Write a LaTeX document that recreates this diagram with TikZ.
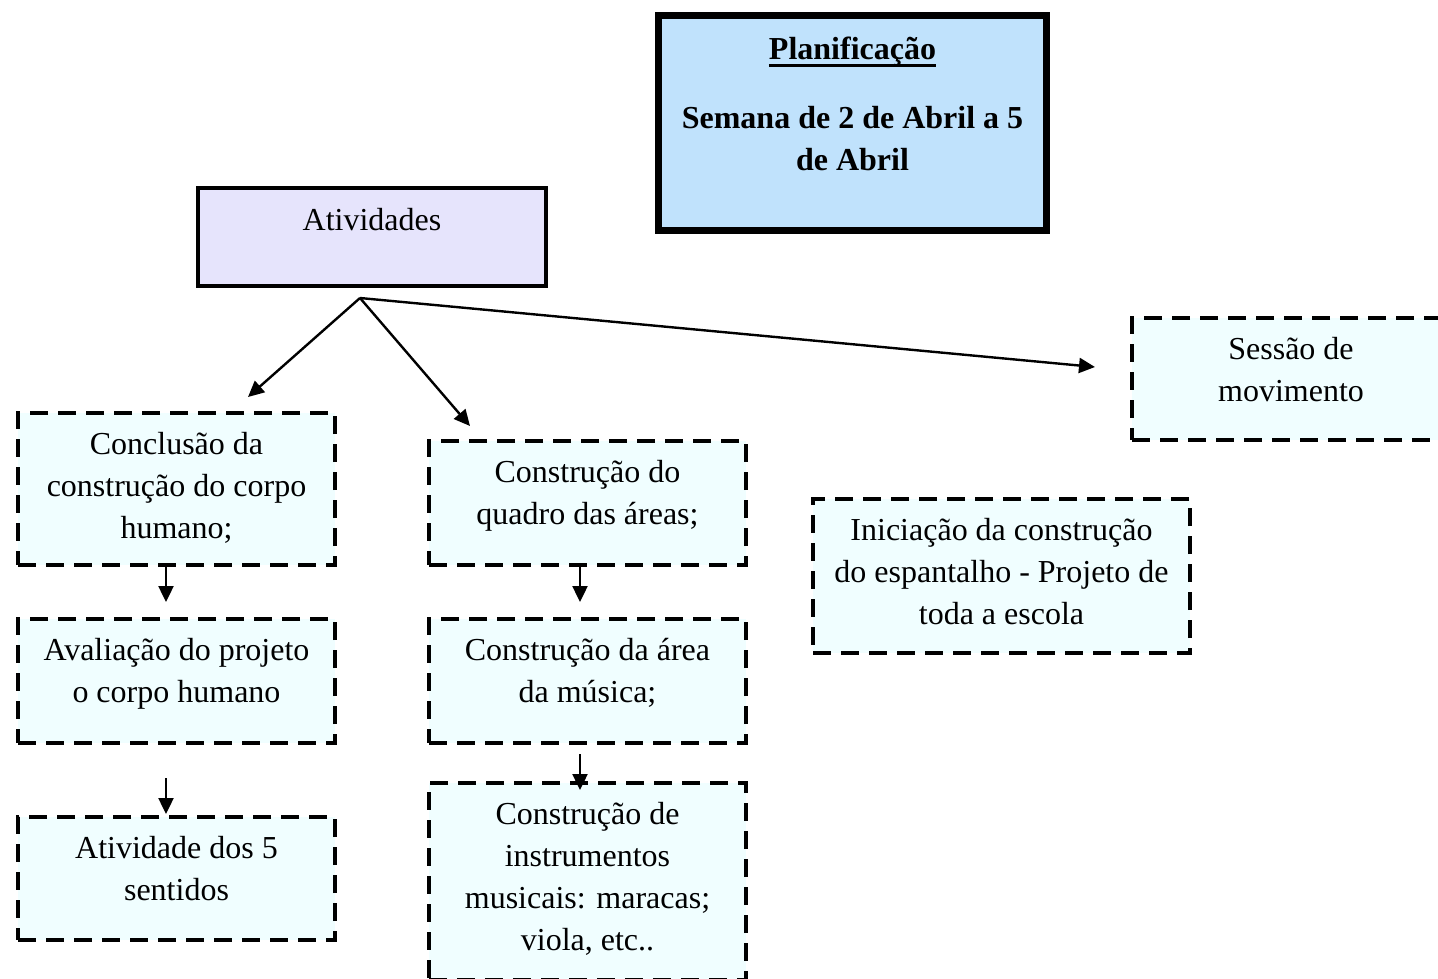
\documentclass[tikz,border=0pt]{standalone}
\usepackage{fontspec}
\setmainfont{Liberation Serif}
\usetikzlibrary{arrows.meta}

\definecolor{titlefill}{HTML}{C0E2FC}
\definecolor{rootfill}{HTML}{E6E4FC}
\definecolor{taskfill}{HTML}{F0FEFF}

% underline at a fixed depth, independent of descenders
\newcommand{\ulfixed}[1]{\setbox0\hbox{#1}\rlap{\rule[-7.5pt]{\wd0}{2.5pt}}\box0}

% fixed-size box with top-aligned, centred lines; #3 = first baseline offset
\newcommand{\boxtext}[4]{\parbox[c][#2][t]{#1}{\centering\fontsize{32}{42}\selectfont\rule{0pt}{#3}#4}}

\tikzset{
  titlebox/.style={draw, line width=7pt, fill=titlefill, inner sep=0pt},
  rootbox/.style={draw, line width=4pt, fill=rootfill, inner sep=0pt},
  taskbox/.style={draw, line width=4pt, dash pattern=on 18pt off 10pt, fill=taskfill, inner sep=0pt},
  arr/.style={line width=2.4pt, -{Triangle[length=16pt,width=15pt]}}
}

\begin{document}
\begin{tikzpicture}[x=1pt, y=-1pt]
\path[use as bounding box, clip] (0,0) rectangle (1438,978);

% heading
\node[titlebox] (title) at (852.5,123)
  {\parbox[c][215pt][t]{388pt}{\centering\fontsize{32}{42}\selectfont\bfseries
   \rule{0pt}{43.5pt}\ulfixed{Planificação}\\[27pt]
   Semana de 2 de Abril a 5\\ de Abril}};

% root
\node[rootbox] (atv) at (372,237) {\boxtext{348pt}{98pt}{42pt}{Atividades}};

% activities
\node[taskbox] (concl) at (176.5,489) {\boxtext{317pt}{152pt}{41pt}{Conclusão da\\ construção do corpo\\ humano;}};
\node[taskbox] (aval)  at (176.5,681) {\boxtext{317pt}{124pt}{41pt}{Avaliação do projeto\\ o corpo humano}};
\node[taskbox] (sent)  at (176.5,878.5) {\boxtext{317pt}{123pt}{41pt}{Atividade dos 5\\ sentidos}};

\node[taskbox] (quad)  at (587.5,503) {\boxtext{317pt}{124pt}{41pt}{Construção do\\ quadro das áreas;}};
\node[taskbox] (musa)  at (587.5,681) {\boxtext{317pt}{124pt}{41pt}{Construção da área\\ da música;}};
\node[taskbox] (instr) at (587.5,881.5) {\boxtext{317pt}{197pt}{41pt}{Construção de\\ instrumentos\\ musicais: maracas;\\ viola, etc..}};

\node[taskbox] (esp)   at (1001.5,576) {\boxtext{377pt}{154pt}{41pt}{Iniciação da construção\\ do espantalho - Projeto de\\ toda a escola}};

\node[taskbox] (mov)   at (1291,379) {\boxtext{318pt}{122pt}{41pt}{Sessão de\\ movimento}};

% connectors
\coordinate (hub) at ([xshift=-12pt,yshift=-10pt]atv.south);
\draw[arr] (hub) -- ([xshift=71.5pt,yshift=14pt]concl.north);
\draw[arr] (hub) -- ([xshift=-117.5pt,yshift=13pt]quad.north);
\draw[arr] (hub) -- ([xshift=-35pt,yshift=12pt]mov.west);

\draw[arr] ([xshift=-10.5pt]concl.south) -- ([xshift=-10.5pt,yshift=15pt]aval.north);
\draw[arr] ([xshift=-10.5pt,yshift=-33pt]aval.south) -- ([xshift=-10.5pt,yshift=1pt]sent.north);
\draw[arr] ([xshift=-7.5pt]quad.south) -- ([xshift=-7.5pt,yshift=15pt]musa.north);
\draw[arr] ([xshift=-7.5pt,yshift=-9pt]musa.south) -- ([xshift=-7.5pt,yshift=-9pt]instr.north);
\end{tikzpicture}
\end{document}
